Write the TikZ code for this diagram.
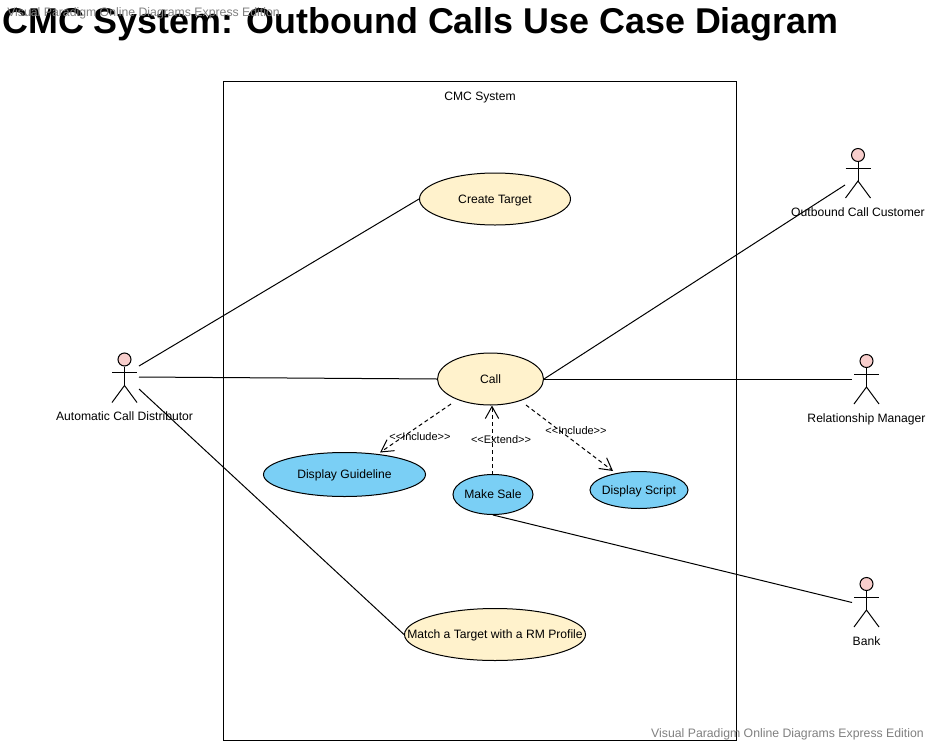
\documentclass[tikz,border=0pt]{standalone}
\usepackage{fontspec}
\setmainfont{Liberation Sans}
\usetikzlibrary{shapes.geometric, arrows.meta}
\definecolor{creamfill}{HTML}{FFF2CC}
\definecolor{bluefill}{HTML}{7ACFF5}
\definecolor{pinkfill}{HTML}{F8CECC}
\definecolor{markgray}{HTML}{808080}
\newcommand{\casetext}[1]{\raisebox{0pt}[6.5pt][0pt]{\makebox[0pt]{#1}}}
\tikzset{
    x = 0.75pt,
    y = -0.75pt,
    line/.style = {draw = black, line width = 0.75pt},
    usecase/.style 2 args = {ellipse, line, inner sep = 0, minimum width = #1 * 0.75pt, minimum height = #2 * 0.75pt},
    creamcase/.style = {fill = creamfill},
    bluecase/.style = {fill = bluefill},
    plaintext/.style = {font = \fontsize{9.1}{11}\selectfont, inner sep = 0},
    stereo/.style = {font = \fontsize{8.25}{10}\selectfont, inner sep = 0},
    watermark/.style = {font = \fontsize{9.2}{11}\selectfont, text = markgray, inner sep = 0},
    depend/.style = {line, dash pattern = on 3pt off 2.25pt, -{Straight Barb[length = 9pt, width = 10pt]}},
    actorhead/.style = {circle, line, fill = pinkfill, inner sep = 0, minimum size = 9.75pt},
    actor/.pic = {
        \node[actorhead] (-head) at (0, 0) {};
        \coordinate (-hip) at (0, 26);
        \draw[line] (-head) -- (-hip);
        \draw[line] (-12.5, 13) -- (12.5, 13);
        \draw[line] (-12.5, 43) -- (-hip) -- (12.5, 43);
    }
}
\begin{document}
\begin{tikzpicture}
    \useasboundingbox (0, 0) rectangle (929, 743);

    \node[line, minimum width = 384.75pt, minimum height = 494.25pt, inner sep = 0] (system) at (480, 411) {};
    \node[plaintext] (systemname) at (480, 98) {CMC System};

    \node[usecase = {151}{52}, creamcase, plaintext] (target) at (495, 199) {\casetext{Create Target}};
    \node[usecase = {106}{52}, creamcase, plaintext] (call) at (490.5, 379) {\casetext{Call}};
    \node[usecase = {162}{44}, bluecase, plaintext] (guideline) at (344.5, 474.5) {\casetext{Display Guideline}};
    \node[usecase = {80}{40}, bluecase, plaintext] (sale) at (493, 494.5) {\casetext{Make Sale}};
    \node[usecase = {98}{37}, bluecase, plaintext] (script) at (639, 490) {\casetext{Display Script}};
    \node[usecase = {181}{52}, creamcase, plaintext] (match) at (495, 634.5) {\casetext{Match a Target with a RM Profile}};

    \pic (acd) at (124.5, 359.5) {actor};
    \pic (customer) at (858, 155) {actor};
    \pic (manager) at (866.5, 361) {actor};
    \pic (bank) at (866.5, 584) {actor};

    \node[plaintext] (acdname) at (124.5, 416) {Automatic Call Distributor};
    \node[plaintext] (customername) at (858, 212) {Outbound Call Customer};
    \node[plaintext] (managername) at (866.5, 419) {Relationship Manager};
    \node[plaintext] (bankname) at (866.5, 641) {Bank};

    \coordinate (acdtop) at (139, 366);
    \coordinate (acdmid) at (139, 377);
    \coordinate (acdlow) at (139, 389);
    \coordinate (customerend) at (845, 185);
    \coordinate (managerend) at (852, 379);
    \coordinate (bankend) at (852, 602.5);

    \draw[line] (acdtop) -- (target.west);
    \draw[line] (acdmid) -- (call.west);
    \draw[line] (acdlow) -- (match.west);
    \draw[line] (call.east) -- (customerend);
    \draw[line] (call.east) -- (managerend);
    \draw[line] (sale.south) -- (bankend);

    \coordinate (callleft) at (451, 404);
    \coordinate (callright) at (526, 405);
    \coordinate (callbottom) at (492, 405.5);
    \coordinate (saletop) at (492, 474.5);
    \coordinate (guidelinetop) at (380, 452.5);
    \coordinate (scripttop) at (613, 471);

    \draw[depend] (callleft) -- (guidelinetop);
    \draw[depend] (saletop) -- (callbottom);
    \draw[depend] (callright) -- (scripttop);

    \node[stereo] (includeone) at (420, 437) {<{}<Include>{}>};
    \node[stereo] (extendone) at (501, 440) {<{}<Extend>{}>};
    \node[stereo] (includetwo) at (576, 430.5) {<{}<Include>{}>};

    \node[font = \fontsize{26.9}{32}\selectfont\bfseries, inner sep = 0, anchor = west] (title) at (2, 24) {CMC System: Outbound Calls Use Case Diagram};
    \node[watermark, anchor = west] (marktop) at (7, 13) {Visual Paradigm Online Diagrams Express Edition};
    \node[watermark, anchor = east] (markbottom) at (924, 734) {Visual Paradigm Online Diagrams Express Edition};
\end{tikzpicture}
\end{document}
